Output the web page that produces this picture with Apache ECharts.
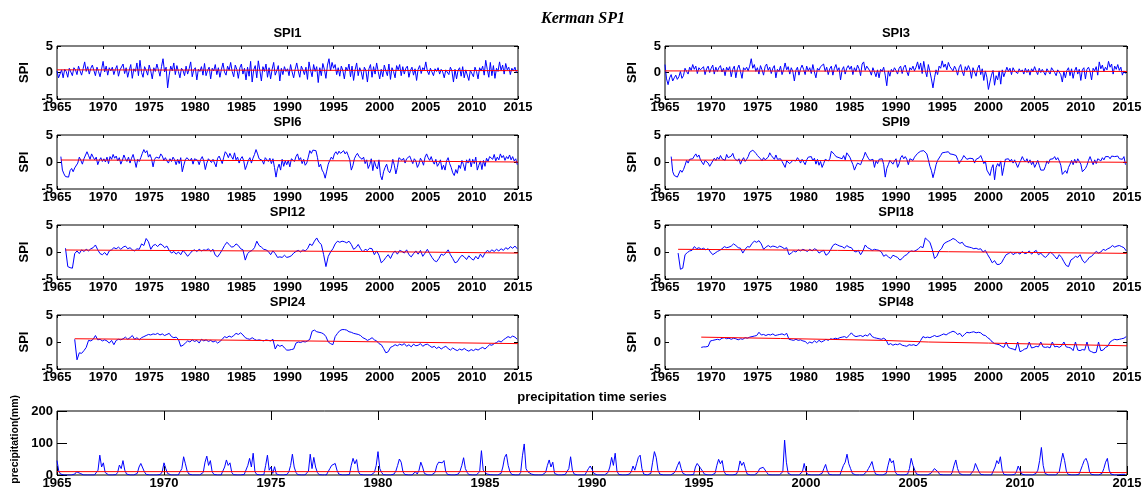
<!DOCTYPE html>
<html>
<head>
<meta charset="utf-8">
<script src="https://cdn.jsdelivr.net/npm/echarts@6.0.0/dist/echarts.min.js"></script>
<style>
html, body { margin: 0; padding: 0; background: #fff; }
#chart { width: 1142px; height: 490px; }
</style>
</head>
<body>
<div id="chart"></div>
<script>
// values (SPI1/3/6/9 every 2 months, SPI12+ every 3 months, rain monthly)
var yearTicks = [1965, 1970, 1975, 1980, 1985, 1990, 1995, 2000, 2005, 2010, 2015];
var spiTicks = [-5, 0, 5];
var rainTicks = [0, 100, 200];

var spi1 = [
  0.3,-1.0,-0.8,0.5,-1.0,0.6, 0.2,-0.9,0.8,0.1,-0.6,0.9, 0.5,-0.4,1.2,0.3,-0.5,0.7, 2.0,0.2,1.1,-0.3,0.8,1.4,
  0.4,-0.6,1.0,0.2,-0.8,0.6, 2.1,0.1,1.2,-0.5,0.9,0.3, 1.0,-0.4,0.6,1.3,-0.7,0.5, 0.8,1.6,-0.2,0.9,-0.9,0.4,
  1.5,-1.1,0.7,0.2,1.8,-0.6, 2.3,0.0,-0.9,1.1,0.4,-0.5, 1.4,0.3,-1.2,0.9,0.2,1.6, 0.5,-0.7,1.1,2.6,0.1,1.0,
  -2.9,-0.5,1.2,0.3,1.8,-0.4, 1.3,0.2,-1.0,0.8,0.4,-0.6, 1.2,-0.3,0.7,2.0,-0.8,0.5, 0.9,-1.4,0.6,0.2,1.1,-0.5,
  1.7,-0.6,0.4,1.0,-1.2,0.8, 0.3,1.5,-0.4,0.9,-0.9,0.6, 1.8,0.1,-0.5,1.2,0.4,1.9, 0.2,-0.8,1.4,0.6,-1.1,0.9,
  1.6,-0.3,0.8,-1.4,1.0,-0.7, 2.1,-1.8,0.5,1.3,-1.0,2.2, 0.4,-1.6,1.1,0.2,1.6,-0.9, 0.9,-1.2,0.6,1.9,-0.5,0.3,
  1.3,-1.6,0.8,-0.4,1.1,0.2, 0.7,-0.6,1.5,0.1,-1.0,0.6, 1.8,0.3,-0.9,1.2,0.5,-0.4, 1.0,-1.3,2.0,0.4,-0.8,1.5,
  0.2,1.1,-1.9,0.9,-0.6,1.7, 0.6,-1.1,1.4,2.6,0.3,1.9, 0.8,1.5,-0.4,0.9,-0.7,1.2, 0.4,-1.2,1.0,0.3,1.6,-0.8,
  1.2,-1.5,0.5,1.8,-0.6,0.9, 0.1,-1.3,1.0,0.4,-1.8,0.7, 1.5,-0.9,1.1,-0.3,1.8,0.2, -1.2,0.6,-0.8,1.4,0.3,-0.6,
  1.6,-1.3,0.9,0.2,-1.0,1.3, 0.5,1.5,-0.6,1.1,-0.3,0.8, 1.2,-0.9,0.4,1.0,-0.5,0.7, -1.5,0.6,1.3,-0.2,0.9,0.5,
  2.0,0.3,-0.4,0.8,0.1,-0.6, 0.7,0.2,0.9,-0.3,0.6,0.1, -1.0,0.5,0.8,-0.4,1.0,0.3, -1.8,0.6,-1.2,0.4,0.9,-0.7,
  1.1,-1.0,0.5,0.8,-1.5,0.4, 0.6,-0.8,1.0,0.2,-1.2,0.9, 0.3,1.2,-0.5,2.3,0.6,-0.9, 1.9,-0.6,1.3,-1.1,0.8,0.2,
  2.0,0.4,1.4,-0.3,1.7,0.5, 1.0,-0.4,0.8,0.3,1.0,0.0
];
var spi3 = [
  1.5,-1.2,-2.3,-1.0,-0.4,-1.6, -1.0,-0.5,-1.3,-0.8,0.2,-1.1, -0.6,0.8,0.2,-0.3,1.0,0.4, 1.5,0.6,1.2,-0.2,0.9,0.5,
  0.3,1.1,-0.4,0.7,1.2,0.0, 0.8,1.4,-0.3,1.0,0.2,0.9, 1.3,0.1,0.8,-0.6,1.0,0.4, 1.1,-0.8,0.6,1.2,-1.0,0.7,
  1.4,0.2,-1.1,0.9,0.5,1.0, 0.3,1.2,2.6,0.8,1.5,0.2, 0.9,-0.3,1.3,0.5,-0.5,1.1, 1.6,0.4,1.0,-0.2,0.8,1.3,
  -1.0,0.6,0.2,1.2,-0.4,0.5, 1.8,0.5,1.1,-0.3,0.9,0.2, -1.6,0.4,1.0,-0.5,0.7,1.4, 0.6,-0.4,1.2,0.3,0.9,-0.2,
  1.5,0.1,-1.0,0.8,0.4,1.1, 0.9,1.6,0.2,1.0,-0.4,0.7, 1.2,-0.5,0.8,1.5,0.3,0.9, -1.4,0.5,1.1,-0.3,0.8,1.3,
  0.6,1.2,-0.4,0.9,0.2,1.4, 0.7,-0.6,1.6,2.0,0.4,1.2, 1.5,0.3,-0.5,0.9,0.1,-0.8, 0.5,-1.0,0.6,0.2,1.0,-0.5,
  -2.5,0.3,-0.7,0.6,0.1,0.9, 0.4,-0.3,0.8,1.2,-0.2,1.0, 1.4,0.2,-0.6,0.9,0.5,1.2, 0.3,1.0,2.0,0.6,1.8,-0.2,
  2.1,0.4,-0.8,1.5,0.2,-1.2, -2.9,-1.0,0.5,-0.4,1.2,0.8, 2.2,1.0,1.6,0.5,1.9,1.1, 1.4,0.3,1.2,0.6,-0.5,0.9,
  1.5,0.2,-0.6,1.1,0.4,1.3, 0.6,-1.1,0.9,0.1,-0.7,0.8, 1.4,-0.4,0.7,-1.5,0.3,-0.9, -3.2,-1.8,-0.5,0.4,-2.4,-0.6,
  -1.4,0.3,-2.2,0.5,-0.8,0.1, 1.0,0.2,0.8,-0.4,0.9,0.3, 0.6,-0.2,0.7,0.1,0.5,-0.3, 0.8,0.0,0.6,-0.5,0.7,0.2,
  1.1,0.3,-0.4,0.8,0.0,0.6, 0.5,-0.5,0.7,0.2,-0.3,0.9, 0.6,0.0,-0.6,0.5,0.8,-0.4, -1.8,0.2,-1.0,0.4,0.9,-0.6,
  0.7,-1.1,0.3,1.0,-0.3,0.6, -1.5,0.5,0.9,-1.2,0.6,1.0, 0.2,-1.4,0.8,0.3,1.1,-0.5, 2.0,0.7,1.4,0.2,1.0,0.5,
  2.1,1.0,1.6,-0.3,1.2,0.6, 1.5,0.4,1.0,-0.5,0.3,-0.2
];
var spi6 = [
  1.0,-1.5,-2.2,-2.7,
  -2.4,-2.8,-1.6,-1.2,-1.8,-1.1, -0.9,-0.2,0.9,0.3,-0.4,0.6, 0.8,1.9,1.2,0.5,1.5,0.9, 0.4,0.9,-0.5,0.3,0.8,0.1,
  0.6,0.0,0.9,-0.3,1.0,0.5, 1.4,0.7,1.1,0.2,0.8,-0.4, 0.3,1.3,0.6,0.1,0.9,-0.2, 0.7,1.4,0.3,-1.0,0.5,0.1,
  0.8,1.6,2.3,1.7,2.1,0.9, 1.4,0.6,-0.9,0.5,0.9,1.2, 0.7,1.5,1.1,0.3,0.8,0.2, -0.2,0.6,0.1,0.9,0.4,-0.5,
  0.5,-0.3,0.8,-1.8,-0.6,0.4, 0.8,1.1,0.2,0.7,-0.4,0.6, 0.9,0.3,-0.5,0.5,1.0,0.2, -1.4,-0.2,0.6,0.9,-0.1,0.5,
  0.3,-0.9,0.7,1.1,0.4,-0.3, 0.9,1.9,1.5,0.8,1.6,1.0, 0.5,1.7,0.4,0.9,-0.2,0.6, 1.0,0.2,-1.4,-0.6,0.3,0.8,
  -0.2,0.7,1.4,2.3,1.5,0.6, 0.9,0.3,-0.4,0.8,0.5,0.1, 0.7,-0.3,0.6,-1.0,-2.8,-1.2, -0.4,-1.5,0.5,-0.8,0.2,-0.5,
  0.3,-0.9,0.6,0.9,0.1,1.0, 1.5,0.4,0.8,-0.3,0.5,-0.6, -0.2,0.9,2.1,1.6,2.2,1.9, 2.1,0.8,-0.9,-0.4,-1.5,-2.0,
  -3.0,-1.7,-0.4,0.3,0.9,0.5, 1.5,1.9,1.4,2.0,1.6,1.8, 2.1,1.5,1.9,1.2,0.4,-1.5, -0.7,0.6,1.2,1.6,1.0,0.8,
  0.5,0.9,-0.3,0.4,-1.2,-0.5, 0.6,-1.6,0.2,-0.8,-1.3,0.4, -2.5,-3.3,-1.8,-1.0,-0.4,-1.6, -2.0,-1.2,0.5,-0.6,-2.2,-1.0,
  0.8,1.0,0.3,0.7,-0.2,0.6, 0.5,1.1,0.4,-0.3,0.6,0.2, -1.0,-0.4,0.7,0.2,-0.6,0.9, 1.5,0.8,0.3,1.0,0.1,-0.4,
  0.5,-0.8,-0.3,0.4,-1.4,-0.6, -1.5,0.2,0.8,-0.3,-1.0,-2.0, -2.5,-1.4,-2.1,-0.6,-1.2,0.3, -0.5,-1.6,0.4,-0.2,0.6,-0.9,
  0.5,-0.3,0.9,-1.5,-0.6,0.2, -1.4,0.3,-0.8,0.7,0.1,1.0, 1.2,0.5,1.4,0.2,0.9,0.4, 1.5,0.8,1.2,0.3,1.0,0.6,
  1.3,0.4,1.0,0.2,0.6,-0.5
];
var spi9 = [
  1.0,-1.8,
  -2.5,-2.2,-2.8,-2.7,-1.5,-1.9, -1.4,-0.6,0.3,-0.2,0.5,0.2, 0.6,1.1,1.5,0.9,1.3,0.4, 0.1,-0.5,0.3,0.6,-0.2,-0.8,
  -0.6,0.2,0.7,0.3,0.9,0.5, 1.2,0.6,0.9,0.3,1.4,0.8, 0.5,1.1,1.6,0.7,0.9,0.2, 0.6,-0.4,0.3,0.8,0.1,0.5,
  1.0,1.8,1.5,2.2,2.0,1.6, 1.2,1.5,0.6,0.2,0.8,0.4, 0.2,0.9,1.7,1.2,1.0,0.5, 1.3,0.5,0.3,0.6,0.1,0.4,
  -1.0,0.2,0.5,-0.3,-0.4,0.3, 0.6,0.2,0.8,0.4,-0.2,0.5, 0.3,-0.5,0.4,0.9,0.6,1.0, 0.2,0.7,-0.4,0.5,-0.6,0.1,
  -1.0,-0.3,0.5,0.8,0.2,0.6, 2.0,1.7,1.4,1.0,1.3,0.8, 1.0,0.6,1.2,0.4,1.7,1.4, 0.9,0.2,-0.5,-1.5,-0.8,-0.2,
  0.1,-0.5,0.3,0.9,1.8,1.2, 0.7,0.3,0.0,0.5,-1.0,0.2, -0.3,0.5,0.2,0.6,-0.5,-2.8, -1.2,-0.5,0.3,0.5,-0.4,0.2,
  0.6,-1.0,-0.3,0.8,1.2,0.6, 1.0,0.5,-0.5,0.6,0.9,0.3, 0.9,1.2,1.6,1.4,2.0,2.2, 2.1,1.8,1.5,0.4,-0.8,-1.6,
  -2.9,-1.8,-0.5,0.3,0.6,1.2, 1.7,1.5,1.8,1.6,1.9,1.5, 1.7,1.4,1.6,1.2,0.5,-0.3, 0.2,0.6,1.2,0.9,0.5,0.3,
  0.7,0.4,0.6,-0.2,0.5,0.2, 0.8,1.2,0.5,-0.3,0.2,-1.5, -1.8,-2.5,-1.2,-0.5,-3.3,-1.0, -0.3,-0.8,0.2,-2.5,-1.0,0.5,
  0.3,0.6,0.1,0.5,-0.2,0.4, 0.2,-1.0,-0.3,0.3,1.0,0.4, 0.0,0.6,-0.2,0.4,-0.5,0.1, -1.0,-0.4,0.3,-0.6,-1.5,-1.2,
  -1.5,-0.8,0.2,-0.3,0.5,0.3, 0.6,1.0,0.4,0.8,0.2,-0.6, -2.3,-2.0,-1.6,-2.1,-1.0,-0.4, 0.3,-0.5,0.5,-0.2,0.6,0.1,
  -0.4,-1.8,-2.0,-1.2,-0.6,0.3, 1.0,0.2,-0.5,0.4,-0.3,0.6, 0.5,0.2,0.8,0.4,1.0,0.7, 1.0,0.6,1.1,0.8,1.0,0.7,
  1.1,0.6,0.9,0.5,1.0,-0.5
];
var spi12 = [
  0.7,
  -2.7,-2.9,-3.0,-0.3, 0.2,-0.3,0.4,0.1, 0.5,0.2,0.6,0.8, 1.3,0.4,-0.3,-0.5, -0.1,-0.6,0.2,0.4,
  0.8,0.6,0.9,0.5, 0.9,1.1,0.6,0.8, 0.4,0.2,0.6,0.5, 1.5,1.2,2.5,1.9, 0.5,1.2,1.4,1.0,
  1.5,1.3,0.8,1.1, 0.3,-0.2,0.1,-0.4, 0.0,-0.5,0.3,-0.2, -0.8,-0.3,0.2,0.4, 0.1,0.5,0.2,0.4,
  0.3,0.6,0.1,0.5, -0.6,-0.9,-0.3,0.4, 1.2,1.8,1.4,0.9, 1.0,1.5,1.2,0.6, 0.4,-1.5,-0.3,0.1,
  0.3,0.8,2.0,1.2, 0.9,0.5,0.4,0.1, -0.5,0.2,-0.3,-1.0, -0.9,-1.0,-0.6,-1.0, -0.9,-0.7,-0.2,0.1,
  0.3,0.0,0.4,0.2, 0.6,1.5,1.2,2.0, 2.6,1.8,1.4,-0.5, -2.7,-0.8,0.0,0.6, 1.5,2.0,1.8,2.0,
  1.9,1.7,2.0,1.4, 0.5,0.8,1.4,0.6, 0.0,0.5,0.3,0.7, 0.6,-0.5,0.2,-0.6, -2.0,-1.6,-1.0,-0.5,
  -1.2,-0.3,0.2,-0.4, 0.3,0.1,-0.2,0.4, -0.5,-0.9,-0.3,0.2, -0.4,0.3,-0.8,-0.2, 0.5,-0.3,-1.0,-1.6,
  -1.8,-1.2,-0.4,-0.6, -0.2,0.4,-0.5,-1.2, -2.0,-1.8,-1.1,-0.6, -0.9,-1.4,-0.7,-1.2, -1.5,-0.8,-1.3,-0.4,
  -1.0,-0.2,0.3,0.0, 0.4,0.1,0.5,0.2, 0.6,0.3,0.8,0.5, 1.0,0.7,1.1,0.6
];
var spi18 = [
  -0.2,-3.2,-3.0,
  -0.5,-0.1,0.2,0.3, 1.0,0.6,0.8,0.5, 0.7,0.4,0.6,0.0, -0.5,-0.2,0.1,0.3, 0.6,1.0,0.8,0.9,
  1.1,1.5,1.2,0.8, 0.7,-0.2,0.5,1.0, 0.9,1.6,2.0,1.8, 2.1,1.5,0.5,0.9, 1.2,0.9,1.1,1.0,
  0.8,1.1,0.9,0.6, 0.8,-0.5,-0.2,0.2, 0.0,0.4,0.2,0.5, 0.3,0.1,0.5,0.2, 0.6,0.4,-0.2,0.1,
  0.3,-0.6,-0.3,0.4, 1.2,1.5,1.3,1.1, 1.0,0.7,1.2,0.9, 0.8,0.2,0.0,0.3, -0.5,0.2,1.3,0.8,
  0.6,0.3,0.5,0.4, 0.3,0.0,-0.8,-0.5, -0.9,-1.2,-0.6,-0.8, -1.0,-1.5,-1.2,-0.7, -0.5,0.0,0.2,0.1,
  0.3,0.6,1.0,0.8, 2.6,2.2,1.8,0.5, -1.2,-0.8,0.2,0.6, 1.5,1.8,2.0,2.2, 2.5,2.3,1.9,1.6,
  1.8,1.2,1.0,0.9, 0.8,0.6,0.7,0.5, 0.6,0.0,0.3,-0.5, -1.2,-2.0,-1.6,-2.3, -2.3,-2.0,-1.2,-0.5,
  -0.3,0.0,-0.5,-0.2, -0.1,-0.4,0.1,-0.3, -0.2,0.2,-0.4,0.0, 0.3,-0.5,-0.2,-0.7, -1.0,-0.6,0.0,-0.3,
  -0.8,-1.3,-0.5,-1.0, -1.8,-2.5,-2.7,-1.5, -1.2,-0.8,-1.0,-0.5, -1.5,-2.0,-1.6,-1.0, -0.8,-0.3,0.1,-0.2,
  0.0,0.5,0.3,0.6, 0.8,1.2,0.9,1.1, 1.2,1.0,0.8,0.2
];
var spi24 = [
  0.5,
  -3.3,-2.0,-2.1,-1.6, -1.0,0.3,0.2,0.5, 1.2,0.4,0.5,0.2, 0.4,0.2,-0.2,0.3, -0.5,0.3,0.5,0.4,
  0.6,0.9,0.5,0.8, 1.2,0.5,0.8,0.4, 0.8,1.0,1.2,1.4, 1.3,1.5,1.4,1.6, 1.3,1.5,1.2,1.4,
  1.6,1.0,0.8,0.9, 0.5,-0.8,-0.6,-0.2, 0.2,0.0,0.4,0.1, 0.3,-0.2,0.5,0.2, 0.4,0.1,0.3,0.0,
  0.2,-0.2,0.1,0.5, 1.0,0.8,1.1,0.9, 1.2,1.6,1.4,1.7, 1.3,0.8,0.6,0.5, 0.8,0.5,0.3,0.4,
  0.3,0.2,0.4,0.3, 0.2,0.5,-1.3,-0.5, -0.8,-0.6,-1.1,-1.5, -1.5,-1.4,-1.3,-0.2, 0.0,-0.1,0.1,0.0,
  0.2,0.5,2.0,2.2, 1.9,1.8,1.7,1.5, 1.0,0.0,-0.3,-0.5, 1.0,1.6,2.1,2.3, 2.3,2.2,1.9,1.8,
  1.6,1.5,1.4,1.2, 0.8,0.6,0.3,0.5, 0.8,0.4,0.2,-0.3, -0.5,-1.2,-2.0,-1.8, -1.0,-0.8,-0.5,-0.7,
  -0.4,-0.6,-0.3,-0.8, -0.5,-0.9,-0.4,-0.7, -0.6,-0.3,-0.8,-0.5, -0.4,-0.7,-1.0,-0.8, -1.2,-0.9,-1.3,-1.0,
  -0.8,-1.2,-1.5,-1.1, -1.4,-1.6,-1.3,-1.5, -1.2,-1.5,-1.7,-1.4, -1.6,-1.3,-1.5,-1.2, -1.0,-1.3,-0.9,-0.5,
  -0.6,-0.3,-0.1,0.2, 0.0,0.4,0.7,1.0, 0.8,1.1,0.9,0.5
];
var spi48 = [
  -1.0,
  -0.9,-0.9,-0.8,0.2, 0.3,0.4,0.5,0.4, 0.7,0.8,0.6,0.7, 0.5,0.7,0.6,0.4, 0.6,0.5,0.8,0.7,
  0.9,1.0,1.1,1.2, 1.8,1.3,1.4,1.2, 1.4,1.3,1.5,1.2, 1.3,1.4,1.5,1.3, 1.6,0.5,0.4,0.3,
  0.5,0.3,0.4,0.2, 0.1,-0.3,0.0,-0.2, 0.2,-0.1,0.3,0.0, 0.2,0.5,0.3,0.6, 0.5,0.7,0.6,0.8,
  0.9,1.0,0.8,1.2, 1.7,1.2,1.0,1.1, 1.2,1.0,1.3,1.1, 1.6,1.0,0.8,0.7, 0.6,0.5,0.7,0.4,
  -0.5,-0.3,-0.6,-0.4, -0.5,-0.3,-0.6,-0.7, -0.8,-0.5,-0.6,-0.5, -0.7,-0.4,0.3,1.0, 0.8,0.9,0.8,1.0,
  1.2,1.0,1.1,1.3, 1.5,1.3,1.6,1.8, 2.0,1.8,1.4,1.6, 1.0,1.4,1.8,1.7, 1.8,1.9,1.7,1.8,
  1.7,1.3,1.2,0.8, 0.5,0.0,-0.3,-0.4, -0.5,-0.8,-1.0,0.0, -1.0,-1.2,-1.3,-1.5, 0.0,-1.8,-1.6,-1.3,
  -1.2,0.0,-1.1,-1.0, -0.8,-0.9,0.0,-0.9, -1.0,-0.9,-1.1,0.0, -0.9,-0.8,-1.0,-0.7, 0.0,-0.9,-1.0,-1.1,
  -1.6,0.0,-1.5,-1.6, -1.4,-1.5,0.0,-1.6, -1.8,-2.0,-1.9,0.0, -1.6,-1.5,-1.0,-0.8, 0.0,0.3,0.5,0.4,
  0.5,0.6,0.7,1.0
];
// red trend lines: [year, value]
var spi1Trend = [[1965, 0.5], [2015, 0.35]];
var spi3Trend = [[1965, 0.3], [2015, 0.2]];
var spi6Trend = [[1965.42, 0.37], [2000, 0.2], [2015, 0.0]];
var spi9Trend = [[1965.67, 0.37], [1978.3, 0.3], [1978.3, 0.25], [2015, -0.05]];
var spi12Trend = [[1965.92, 0.37], [1998, 0.1], [1998, -0.1], [2015, -0.2]];
var spi18Trend = [[1966.42, 0.5], [1983.7, 0.3], [1983.7, 0.15], [1995.7, 0.05], [1995.7, -0.05], [2015, -0.25]];
var spi24Trend = [[1966.92, 0.6], [1978, 0.45], [1978, 0.3], [1994.3, 0.15], [1994.3, -0.05], [2015, -0.3]];
var spi48Trend = [[1968.92, 0.9], [1977.5, 0.65], [1988.6, 0.3], [1993.5, 0.0], [2000, -0.2], [2015, -0.7]];

// monthly precipitation (mm), Jan 1965 .. Dec 2014
var rain = [
  45,12,3,1,0,0,0,0,0,1,3,10, 10,5,2,0,0,0,0,0,0,0,2,15, 62,25,38,8,2,0,0,0,0,1,8,31,
  20,45,15,3,0,0,0,0,1,5,25,36, 34,10,2,0,0,0,0,0,0,0,2,10, 38,20,5,1,0,0,0,0,0,5,20,57,
  35,12,3,0,0,0,0,0,0,2,8,40, 59,30,45,10,2,0,0,0,0,3,25,47, 30,38,8,1,0,0,0,0,0,2,8,30,
  52,25,68,10,2,0,0,0,1,30,62,15, 25,5,26,3,0,0,0,0,0,2,10,30, 65,25,8,1,0,0,0,0,2,12,65,20,
  55,25,8,1,0,0,0,0,5,20,30,25, 36,15,3,0,0,0,0,0,2,30,52,35, 48,10,2,0,0,0,0,0,0,2,8,30,
  73,20,8,1,0,0,0,0,0,3,12,30, 50,40,10,2,0,0,0,0,5,10,3,15, 40,25,5,1,0,0,0,0,8,30,40,45,
  38,45,10,2,0,0,0,0,0,3,12,30, 54,20,8,1,0,0,0,0,2,10,76,15, 10,3,6,1,0,0,0,0,0,5,25,55,
  65,30,10,2,0,0,0,0,8,60,97,20, 10,12,3,0,0,0,0,0,0,2,8,30, 47,25,40,5,1,0,0,0,0,2,5,20,
  57,15,3,0,0,0,0,0,0,5,20,28, 18,5,1,0,0,0,0,0,2,8,25,55, 30,68,12,2,0,0,0,0,0,3,10,28,
  15,35,55,62,20,3,0,0,0,5,40,73, 55,15,3,0,0,0,0,0,0,2,6,15, 30,42,20,5,0,0,0,0,0,2,25,36,
  30,20,12,3,0,0,0,0,0,5,30,49, 35,45,12,2,0,0,0,0,0,3,15,44, 30,40,20,3,0,0,0,0,0,8,20,26,
  24,20,8,1,0,0,0,0,0,0,2,10, 109,40,5,0,0,0,0,0,0,2,10,36, 10,2,0,0,0,0,0,0,0,5,20,33,
  12,2,0,0,0,0,0,0,5,30,40,65, 35,20,5,0,0,0,0,0,0,2,10,20, 30,42,18,3,0,0,0,0,0,5,30,52,
  38,45,10,2,0,0,0,0,0,3,20,52, 30,15,3,0,0,0,0,0,0,0,5,12, 20,24,10,2,0,0,0,0,0,0,8,30,
  47,20,5,0,0,0,0,0,0,2,15,36, 30,10,2,0,0,0,0,0,0,5,25,45, 35,57,15,2,0,0,0,0,0,2,10,28,
  15,3,0,0,0,0,0,0,2,5,15,45, 86,30,5,0,0,0,0,0,0,3,10,40, 68,45,12,2,0,0,0,0,0,2,15,30,
  45,52,38,10,2,0,0,0,0,0,5,20, 40,52,15,3,0,0,0,0,0,2,5,2
];
var rainTrend = [[1965, 10.5], [2003.5, 10.5], [2003.5, 7.5], [2015, 7.5]];

var panels = [
  { title: 'SPI1', values: spi1, start: 1965, step: 1 / 6, trend: spi1Trend, col: 0, row: 0 },
  { title: 'SPI3', values: spi3, start: 1965, step: 1 / 6, trend: spi3Trend, col: 1, row: 0 },
  { title: 'SPI6', values: spi6, start: 1965.42, step: 1 / 6, trend: spi6Trend, col: 0, row: 1 },
  { title: 'SPI9', values: spi9, start: 1965.67, step: 1 / 6, trend: spi9Trend, col: 1, row: 1 },
  { title: 'SPI12', values: spi12, start: 1965.92, step: 0.25, trend: spi12Trend, col: 0, row: 2 },
  { title: 'SPI18', values: spi18, start: 1966.42, step: 0.25, trend: spi18Trend, col: 1, row: 2 },
  { title: 'SPI24', values: spi24, start: 1966.92, step: 0.25, trend: spi24Trend, col: 0, row: 3 },
  { title: 'SPI48', values: spi48, start: 1968.92, step: 0.25, trend: spi48Trend, col: 1, row: 3 }
];

var colLeft = [57, 665], colWidth = [461, 462];
var rowTop = [46, 135, 225, 315], rowHeight = [53, 54, 54, 54];
var font = 'Liberation Sans, Arial, sans-serif';

function toPairs(values, start, step) {
  return values.map(function (v, i) { return [start + i * step, v]; });
}
function plain(v) { return String(v); }

var grids = [], xAxes = [], yAxes = [], series = [], texts = [];

function addPanel(box, yMin, yMax, yStep, tickLen, blue, red) {
  var g = grids.length;
  grids.push({ left: box.left, top: box.top, width: box.width, height: box.height,
    show: true, borderColor: '#000', borderWidth: 1, backgroundColor: '#fff',
    containLabel: false, outerBoundsMode: 'none' });
  var xBase = { type: 'value', gridIndex: g, min: 1965, max: 2015, interval: 5,
    axisLine: { show: false, onZero: false }, splitLine: { show: false },
    axisTick: { inside: true, length: tickLen, lineStyle: { color: '#000', width: 1 } } };
  xAxes.push(Object.assign({}, xBase, { position: 'bottom',
    axisLabel: { show: true, formatter: plain, color: '#000', fontFamily: font, fontWeight: 'bold',
      fontSize: 13, margin: 2, showMinLabel: true, showMaxLabel: true } }));
  xAxes.push(Object.assign({}, xBase, { position: 'top', axisLabel: { show: false } }));
  var yBase = { type: 'value', gridIndex: g, min: yMin, max: yMax, interval: yStep,
    axisLine: { show: false, onZero: false }, splitLine: { show: false },
    axisTick: { inside: true, length: tickLen + 1, lineStyle: { color: '#000', width: 1 } } };
  yAxes.push(Object.assign({}, yBase, { position: 'left',
    axisLabel: { show: true, formatter: plain, color: '#000', fontFamily: font, fontWeight: 'bold',
      fontSize: 13, margin: 4, showMinLabel: true, showMaxLabel: true } }));
  yAxes.push(Object.assign({}, yBase, { position: 'right', axisLabel: { show: false } }));
  series.push({ type: 'line', xAxisIndex: 2 * g, yAxisIndex: 2 * g, data: blue,
    symbol: 'none', showSymbol: false, silent: true, animation: false,
    lineStyle: { color: '#0000ff', width: 1 } });
  series.push({ type: 'line', xAxisIndex: 2 * g, yAxisIndex: 2 * g, data: red,
    symbol: 'none', showSymbol: false, silent: true, animation: false,
    lineStyle: { color: '#ff0000', width: 1 } });
}

function label(text, x, y, size, opts) {
  opts = opts || {};
  texts.push({ type: 'text', x: x, y: y, rotation: opts.rotate ? Math.PI / 2 : 0, silent: true,
    style: { text: text, fill: '#000',
      font: (opts.font || ('bold ' + size + 'px ' + font)),
      align: opts.align || 'center', verticalAlign: 'middle',
      textAlign: opts.align || 'center', textVerticalAlign: 'middle' } });
}

panels.forEach(function (p) {
  var box = { left: colLeft[p.col], top: rowTop[p.row], width: colWidth[p.col], height: rowHeight[p.row] };
  addPanel(box, -5, 5, 5, 3, toPairs(p.values, p.start, p.step), p.trend);
  label(p.title, box.left + box.width / 2, box.top - 13, 13);
  label('SPI', box.left - 33, box.top + box.height / 2, 13, { rotate: true });
});

var rainBox = { left: 57, top: 411, width: 1070, height: 64 };
addPanel(rainBox, 0, 200, 100, 9, toPairs(rain, 1965, 1 / 12), rainTrend);
label('precipitation time series', rainBox.left + rainBox.width / 2, 397, 13);
label('precipitation(mm)', 15, 395, 10.5, { rotate: true, align: 'right' });
label('Kerman SP1', 583, 19, 16, { font: 'italic bold 16px Liberation Serif, Times New Roman, serif' });

var chart = echarts.init(document.getElementById('chart'), null, { renderer: 'canvas' });
chart.setOption({
  backgroundColor: '#fff',
  animation: false,
  grid: grids,
  xAxis: xAxes,
  yAxis: yAxes,
  series: series,
  graphic: { elements: texts }
});
</script>
</body>
</html>
